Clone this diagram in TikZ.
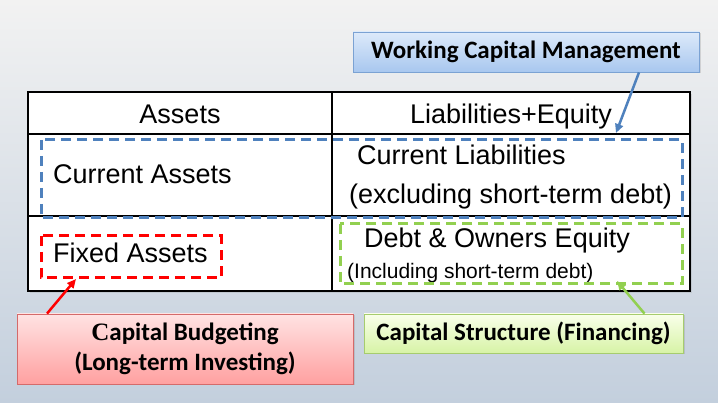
\documentclass[tikz,border=0pt]{standalone}
\usepackage{fontspec}
\setmainfont{Liberation Sans}
\newfontfamily\labelfont{Carlito}
\newfontfamily\serifC{Liberation Serif}
\usetikzlibrary{arrows.meta,shadows}

\definecolor{bgtop}{HTML}{F2F2F2}
\definecolor{bgbot}{HTML}{C3CFDD}
\definecolor{wcmblue}{HTML}{4F81BD}
\definecolor{wcmtop}{HTML}{DDEAFA}
\definecolor{wcmbot}{HTML}{A8C7EF}
\definecolor{wcmedge}{HTML}{7BA2D3}
\definecolor{cbtop}{HTML}{FFE3E3}
\definecolor{cbbot}{HTML}{FFA0A0}
\definecolor{cbedge}{HTML}{D46A6A}
\definecolor{cstop}{HTML}{F9FFEA}
\definecolor{csbot}{HTML}{D7F3A6}
\definecolor{csedge}{HTML}{A6CC6E}
\definecolor{capgreen}{HTML}{92D050}

\begin{document}
\begin{tikzpicture}[x=1pt,y=-1pt,
  celltext/.style={inner sep=0pt,font=\fontsize{27}{32}\selectfont},
  smalltext/.style={inner sep=0pt,font=\fontsize{21}{25}\selectfont},
  labelbox/.style={draw,line width=0.8pt,align=center,inner sep=0pt,
    font=\labelfont\bfseries\fontsize{25}{30}\selectfont,
    drop shadow={shadow xshift=1.5pt,shadow yshift=-1.5pt,opacity=0.25}},
  groupframe/.style={line width=3pt,dash pattern=on 10pt off 6pt},
  pointer/.style={line width=2.5pt,-{Triangle[length=9pt,width=8pt]}},
  gridline/.style={line width=1.2pt,draw=black}
]
% page background
\fill[top color=bgtop,bottom color=bgbot] (0,0) rectangle (718,403);
\useasboundingbox (0,0) rectangle (718,403);

% balance sheet table
\path[fill=white,gridline,drop shadow={shadow xshift=2pt,shadow yshift=-2pt,opacity=0.2}]
  (28,92) rectangle (690,291);
\draw[gridline] (28,134) -- (690,134);
\draw[gridline] (28,216) -- (690,216);
\draw[gridline] (332,92) -- (332,291);

% table contents
\node[celltext,anchor=base] (assets) at (180,124) {Assets};
\node[celltext,anchor=base] (liabeq) at (511,124) {Liabilities+Equity};
\node[celltext,anchor=base west] (curassets) at (53,184) {Current Assets};
\node[celltext,anchor=base west] (fixassets) at (53,263) {Fixed Assets};
\node[celltext,anchor=base west] (curliab) at (357,165) {Current Liabilities};
\node[celltext,anchor=base west] (curliabnote) at (349,204) {(excluding short-term debt)};
\node[celltext,anchor=base west] (debteq) at (364,248) {Debt \& Owners Equity};
\node[smalltext,anchor=base west] (debteqnote) at (347,279) {(Including short-term debt)};

% dashed groupings
\draw[groupframe,draw=wcmblue] (41,140) rectangle (682,218);
\draw[groupframe,draw=red] (41,236) rectangle (221,278);
\draw[groupframe,draw=capgreen] (340,224) rectangle (682,284);

% decision labels
\node[labelbox,draw=wcmedge,top color=wcmtop,bottom color=wcmbot,
  minimum width=346pt,minimum height=40pt] (wcm) at (526,52)
  {Working Capital Management};
\node[labelbox,draw=cbedge,top color=cbtop,bottom color=cbbot,
  minimum width=336pt,minimum height=70pt] (cb) at (185,349)
  {{\serifC\bfseries C}apital Budgeting\\(Long-term Investing)};
\node[labelbox,draw=csedge,top color=cstop,bottom color=csbot,
  minimum width=319pt,minimum height=39pt] (cs) at (523.5,333.5)
  {Capital Structure (Financing)};

% pointers into the table
\coordinate (wcmtip) at (616,133);
\coordinate (cbtip) at (76,279);
\coordinate (cstip) at (617,281);
\draw[pointer,draw=wcmblue,fill=wcmblue] ([xshift=113pt]wcm.south) -- (wcmtip);
\draw[pointer,draw=red,fill=red] ([xshift=-138pt]cb.north) -- (cbtip);
\draw[pointer,draw=capgreen,fill=capgreen] ([xshift=121pt]cs.north) -- (cstip);
\end{tikzpicture}
\end{document}
